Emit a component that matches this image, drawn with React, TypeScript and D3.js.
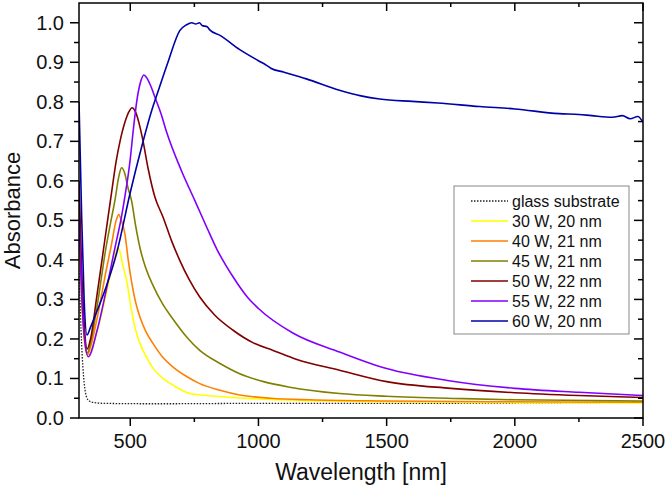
import React from "react";
import * as d3 from "d3";

type Pt = [number, number];

const glass: Pt[] = [
  [300, 0.42], [303, 0.33], [306, 0.26], [310, 0.19], [315, 0.13], [320, 0.09], [325, 0.065],
  [330, 0.052], [340, 0.043], [360, 0.039], [400, 0.037], [600, 0.036], [1000, 0.037],
  [1500, 0.037], [2000, 0.038], [2500, 0.04],
];
const w30: Pt[] = [
  [300, 0.45], [310, 0.3], [320, 0.2], [336, 0.155], [350, 0.175], [375, 0.23], [405, 0.31],
  [425, 0.37], [440, 0.41], [450, 0.43], [458, 0.425], [470, 0.39], [488, 0.34], [503, 0.28],
  [518, 0.23], [540, 0.185], [563, 0.154], [590, 0.125], [628, 0.1], [680, 0.078], [732, 0.062],
  [800, 0.057], [900, 0.052], [1000, 0.048], [1200, 0.044], [1500, 0.041], [2000, 0.039], [2500, 0.038],
];
const w40: Pt[] = [
  [300, 0.5], [310, 0.32], [320, 0.21], [333, 0.16], [345, 0.18], [370, 0.25], [405, 0.37],
  [427, 0.44], [445, 0.5], [455, 0.515], [465, 0.5], [479, 0.466], [492, 0.4], [505, 0.345],
  [520, 0.295], [538, 0.255], [560, 0.22], [589, 0.188], [625, 0.155], [667, 0.129], [720, 0.105],
  [771, 0.087], [850, 0.07], [927, 0.058], [1050, 0.05], [1200, 0.046], [1500, 0.043], [2000, 0.041],
  [2500, 0.04],
];
const w45: Pt[] = [
  [300, 0.55], [310, 0.35], [320, 0.22], [333, 0.165], [345, 0.19], [370, 0.28], [405, 0.43],
  [425, 0.5], [440, 0.55], [455, 0.61], [466, 0.633], [478, 0.62], [492, 0.58], [505, 0.55],
  [520, 0.49], [538, 0.43], [560, 0.38], [589, 0.335], [625, 0.29], [667, 0.25], [720, 0.205],
  [771, 0.171], [850, 0.138], [927, 0.112], [1020, 0.092], [1122, 0.078], [1316, 0.062],
  [1500, 0.055], [1800, 0.049], [2000, 0.046], [2500, 0.043],
];
const w50: Pt[] = [
  [300, 0.6], [310, 0.38], [320, 0.24], [332, 0.175], [345, 0.2], [370, 0.31], [405, 0.47],
  [427, 0.57], [445, 0.65], [460, 0.7], [480, 0.75], [495, 0.775], [507, 0.785], [520, 0.775],
  [538, 0.736], [550, 0.7], [570, 0.63], [596, 0.559], [628, 0.508], [660, 0.45], [693, 0.399],
  [730, 0.35], [771, 0.306], [830, 0.26], [901, 0.222], [980, 0.19], [1057, 0.171], [1150, 0.148],
  [1316, 0.121], [1500, 0.092], [1750, 0.075], [2000, 0.064], [2250, 0.057], [2500, 0.052],
];
const w55: Pt[] = [
  [300, 0.5], [310, 0.32], [320, 0.21], [336, 0.155], [370, 0.22], [405, 0.32], [440, 0.43],
  [466, 0.51], [479, 0.56], [499, 0.65], [512, 0.73], [525, 0.8], [540, 0.85], [553, 0.868],
  [565, 0.86], [580, 0.84], [596, 0.812], [620, 0.77], [641, 0.725], [700, 0.625], [752, 0.55],
  [800, 0.48], [837, 0.428], [900, 0.358], [958, 0.305], [1000, 0.277], [1134, 0.215],
  [1316, 0.167], [1500, 0.125], [1737, 0.095], [2000, 0.075], [2250, 0.065], [2500, 0.057],
];
const w60: Pt[] = [
  [300, 0.8], [310, 0.52], [320, 0.3], [331, 0.21], [345, 0.23], [370, 0.27], [405, 0.33],
  [448, 0.42], [499, 0.568], [544, 0.685], [587, 0.785], [600, 0.81], [647, 0.9], [693, 0.98],
  [720, 0.995], [740, 1.0], [755, 0.997], [770, 1.0], [780, 0.993], [800, 0.99], [810, 0.982],
  [850, 0.968], [927, 0.932], [1000, 0.904], [1030, 0.893], [1048, 0.885], [1100, 0.875],
  [1187, 0.858], [1316, 0.829], [1400, 0.815], [1473, 0.807], [1600, 0.801], [1700, 0.797],
  [1862, 0.788], [2000, 0.782], [2173, 0.77], [2250, 0.768], [2300, 0.765], [2380, 0.761],
  [2420, 0.765], [2450, 0.757], [2480, 0.763], [2500, 0.748],
];

const seriesNames = ["glass substrate", "30 W, 20 nm", "40 W, 21 nm", "45 W, 21 nm", "50 W, 22 nm", "55 W, 22 nm", "60 W, 20 nm"];
const seriesData = [glass, w30, w40, w45, w50, w55, w60];
const seriesColors = ["#222222", "#ffff00", "#ff8000", "#808000", "#800000", "#8000ff", "#0000a8"];

const xTicks = [500, 1000, 1500, 2000, 2500];
const yTicks = [0, 0.1, 0.2, 0.3, 0.4, 0.5, 0.6, 0.7, 0.8, 0.9, 1.0];
const xMinor = [750, 1250, 1750, 2250];
const yMinor = [0.05, 0.15, 0.25, 0.35, 0.45, 0.55, 0.65, 0.75, 0.85, 0.95];

const W = 666, H = 489;
const L = 79, R = 643, T = 3, B = 418;
const FONT = "'Liberation Sans', Arial, sans-serif";

export default function App() {
  const x = d3.scaleLinear().domain([300, 2500]).range([L, R]);
  const y = d3.scaleLinear().domain([0, 1.05]).range([B, T]);
  const line = d3.line<Pt>().x(d => x(d[0])).y(d => y(d[1])).curve(d3.curveMonotoneX);
  const order = [0, 1, 2, 3, 4, 5, 6];
  const legX = 454, legY = 186, legW = 175, legH = 148;
  return (
    <svg width={W} height={H} style={{ position: "absolute", left: 0, top: 0, background: "#fff" }} fontFamily={FONT}>
      <rect x={0} y={0} width={W} height={H} fill="#fff" />
      <defs>
        <clipPath id="plot"><rect x={L} y={T} width={R - L} height={B - T} /></clipPath>
      </defs>
      <g clipPath="url(#plot)">
        {order.map(i => (
          <path key={i} d={line(seriesData[i]) || ""} fill="none" stroke={seriesColors[i]}
            strokeWidth={i === 0 ? 1.3 : 1.6} strokeDasharray={i === 0 ? "1.5,1.5" : undefined} />
        ))}
      </g>
      <rect x={L} y={T} width={R - L} height={B - T} fill="none" stroke="#000" strokeWidth={1.5} />
      {xTicks.map(t => (
        <g key={"xb" + t}>
          <line x1={x(t)} x2={x(t)} y1={B} y2={B + 8} stroke="#000" strokeWidth={1.5} />
          <line x1={x(t)} x2={x(t)} y1={T} y2={T + 8} stroke="#000" strokeWidth={1.5} />
          <text x={x(t)} y={B + 30} fontSize={20} textAnchor="middle" fill="#111">{t}</text>
        </g>
      ))}
      {xMinor.map(t => (
        <g key={"xm" + t}>
          <line x1={x(t)} x2={x(t)} y1={B} y2={B + 4} stroke="#000" strokeWidth={1.5} />
          <line x1={x(t)} x2={x(t)} y1={T} y2={T + 4} stroke="#000" strokeWidth={1.5} />
        </g>
      ))}
      {yTicks.map(t => (
        <g key={"yt" + t}>
          <line x1={L - 9} x2={L} y1={y(t)} y2={y(t)} stroke="#000" strokeWidth={1.5} />
          <line x1={R - 9} x2={R} y1={y(t)} y2={y(t)} stroke="#000" strokeWidth={1.5} />
          <text x={64} y={y(t) + 7} fontSize={20} textAnchor="end" fill="#111">{t.toFixed(1)}</text>
        </g>
      ))}
      {yMinor.map(t => (
        <g key={"ym" + t}>
          <line x1={L - 5} x2={L} y1={y(t)} y2={y(t)} stroke="#000" strokeWidth={1.5} />
          <line x1={R - 5} x2={R} y1={y(t)} y2={y(t)} stroke="#000" strokeWidth={1.5} />
        </g>
      ))}
      <text x={(L + R) / 2} y={480} fontSize={23} textAnchor="middle" fill="#111">Wavelength [nm]</text>
      <text transform={`translate(20,${(T + B) / 2}) rotate(-90)`} fontSize={22} textAnchor="middle" fill="#111">Absorbance</text>
      <rect x={legX} y={legY} width={legW} height={legH} fill="#fff" stroke="#888" strokeWidth={1} />
      {seriesNames.map((n, i) => {
        const ry = legY + 15 + i * 20;
        return (
          <g key={"lg" + i}>
            <line x1={471} x2={508} y1={ry} y2={ry} stroke={seriesColors[i]} strokeWidth={i === 0 ? 1.3 : 1.6}
              strokeDasharray={i === 0 ? "1.5,1.5" : undefined} />
            <text x={512} y={ry + 6} fontSize={16} fill="#111">{n}</text>
          </g>
        );
      })}
    </svg>
  );
}
